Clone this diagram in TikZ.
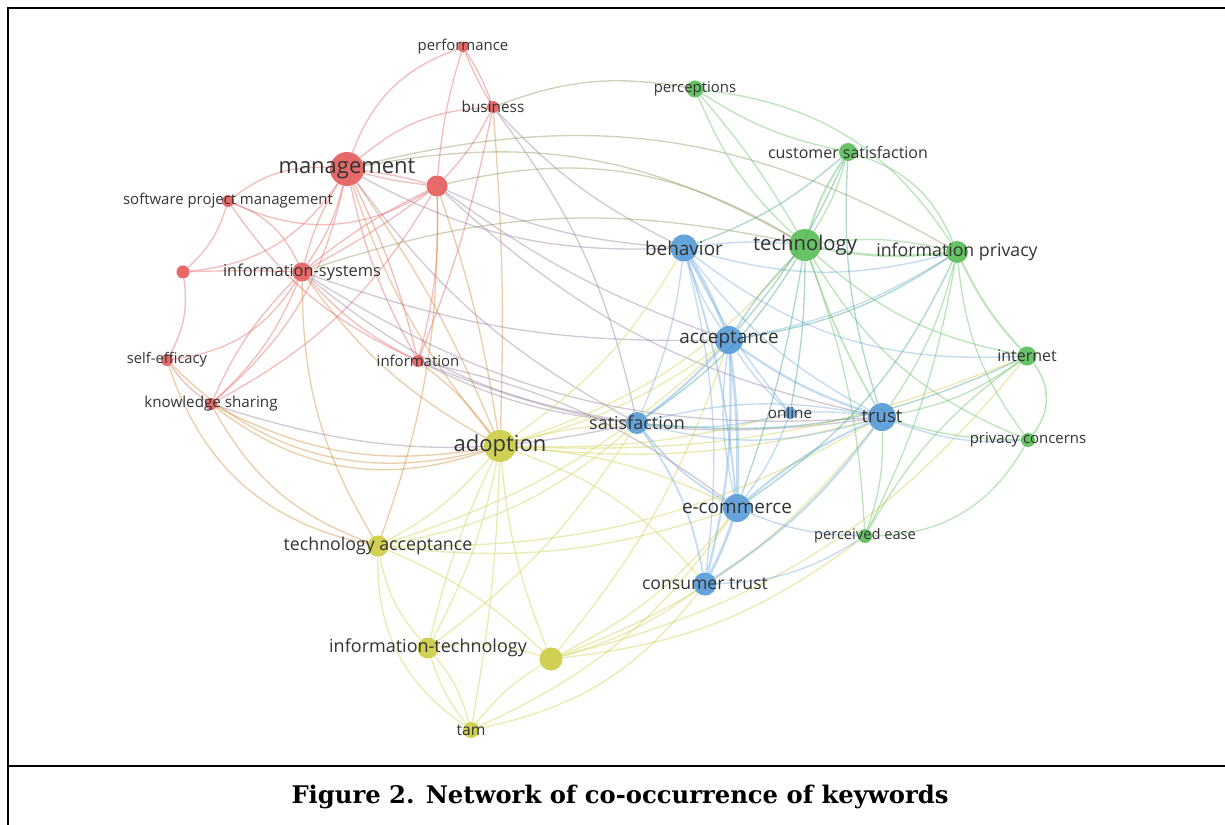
\documentclass[tikz,border=0pt]{standalone}
\usepackage{fontspec}
\newfontfamily\kwfont{Open Sans}
\newfontfamily\capfont{DejaVu Serif}
\usetikzlibrary{positioning}
\definecolor{kwRed}{HTML}{E0504F}
\definecolor{kwYel}{HTML}{C8C836}
\definecolor{kwBlu}{HTML}{4A94D4}
\definecolor{kwGrn}{HTML}{4DB84B}
\definecolor{kwText}{HTML}{333333}
\newcommand{\kwsz}[1]{\kwfont\fontsize{#1}{#1}\selectfont}
\pgfdeclarelayer{links}
\pgfsetlayers{links,main}
\tikzset{
  kw red/.style={circle, fill=kwRed, fill opacity=.85, inner sep=0pt},
  kw yel/.style={circle, fill=kwYel, fill opacity=.85, inner sep=0pt},
  kw blu/.style={circle, fill=kwBlu, fill opacity=.85, inner sep=0pt},
  kw grn/.style={circle, fill=kwGrn, fill opacity=.85, inner sep=0pt},
  kw label/.style={text=kwText, text opacity=1, inner sep=0pt},
  e red/.style={draw=kwRed!75, line width=1pt, opacity=.5},
  e org/.style={draw=kwRed!45!kwYel, line width=1pt, opacity=.45},
  e pur/.style={draw=kwRed!45!kwBlu, line width=1pt, opacity=.4},
  e olv/.style={draw=kwRed!40!kwGrn, line width=1pt, opacity=.4},
  e yel/.style={draw=kwYel!70, line width=1pt, opacity=.55},
  e blu/.style={draw=kwBlu!75, line width=1pt, opacity=.45},
  e tea/.style={draw=kwBlu!50!kwGrn, line width=1pt, opacity=.45},
  e grn/.style={draw=kwGrn!75, line width=1pt, opacity=.5},
  frame line/.style={draw=black, line width=1.5pt},
}

\begin{document}
\begin{tikzpicture}[x=0.75pt, y=-0.75pt]
  \useasboundingbox (0,0) rectangle (1225,825);
  % Frame and caption
  \draw[frame line] (7.5,825) -- (7.5,7.5) -- (1225,7.5);
  \draw[frame line] (7.5,766) -- (1225,766);
  \node[font=\capfont\bfseries\fontsize{18.2}{20}\selectfont] (caption) at (620,797) {Figure 2. Network of co-occurrence of keywords};

  % Red cluster
  \node[kw red, minimum size=8.3pt, label={[kw label, font=\kwsz{11.2}]center:performance}] (perf) at (463,47) {};
  \node[kw red, minimum size=9pt, label={[kw label, font=\kwsz{11.5}]center:business}] (bus) at (493,107) {};
  \node[kw red, minimum size=25.5pt, label={[kw label, font=\kwsz{16.5}]center:management}] (mgmt) at (347,169) {};
  \node[kw red, minimum size=15.8pt] (rdot) at (437,186) {};
  \node[kw red, minimum size=9pt, label={[kw label, font=\kwsz{11.2}]center:software project management}] (spm) at (228,201) {};
  \node[kw red, minimum size=9.8pt] (rdot2) at (183,272) {};
  \node[kw red, minimum size=14.3pt, label={[kw label, font=\kwsz{12.3}]center:information-systems}] (isys) at (302,272) {};
  \node[kw red, minimum size=9pt, label={[kw label, font=\kwsz{11}]center:self-efficacy}] (selfe) at (167,360) {};
  \node[kw red, minimum size=9pt, label={[kw label, font=\kwsz{11.2}]center:information}] (info) at (418,361) {};
  \node[kw red, minimum size=9pt, label={[kw label, font=\kwsz{11.4}]center:knowledge sharing}] (know) at (211,404) {};

  % Yellow cluster
  \node[kw yel, minimum size=24pt, label={[kw label, font=\kwsz{16.5}]center:adoption}] (adopt) at (500,446) {};
  \node[kw yel, minimum size=15.8pt, label={[kw label, font=\kwsz{13.3}]center:technology acceptance}] (tacc) at (378,546) {};
  \node[kw yel, minimum size=15.8pt, label={[kw label, font=\kwsz{13.5}]center:information-technology}] (itech) at (428,648) {};
  \node[kw yel, minimum size=17.3pt] (ydot) at (551,659) {};
  \node[kw yel, minimum size=12pt, label={[kw label, font=\kwsz{11.8}]center:tam}] (tam) at (471,730) {};

  % Blue cluster
  \node[kw blu, minimum size=20.3pt, label={[kw label, font=\kwsz{14.2}]center:behavior}] (behav) at (684,248) {};
  \node[kw blu, minimum size=21pt, label={[kw label, font=\kwsz{14.2}]center:acceptance}] (accept) at (729,340) {};
  \node[kw blu, minimum size=16.5pt, label={[kw label, font=\kwsz{13.5}]center:satisfaction}] (satis) at (637,423) {};
  \node[kw blu, minimum size=9pt, label={[kw label, font=\kwsz{11.4}]center:online}] (online) at (790,413) {};
  \node[kw blu, minimum size=21pt, label={[kw label, font=\kwsz{13.8}]center:trust}] (trust) at (882,417) {};
  \node[kw blu, minimum size=21pt, label={[kw label, font=\kwsz{14.2}]center:e-commerce}] (ecom) at (737,508) {};
  \node[kw blu, minimum size=17.3pt, label={[kw label, font=\kwsz{13.2}]center:consumer trust}] (ctrust) at (705,584) {};

  % Green cluster
  \node[kw grn, minimum size=12.8pt, label={[kw label, font=\kwsz{11.2}]center:perceptions}] (percep) at (695,89) {};
  \node[kw grn, minimum size=13.5pt, label={[kw label, font=\kwsz{12}]center:customer satisfaction}] (csat) at (848,152) {};
  \node[kw grn, minimum size=24pt, label={[kw label, font=\kwsz{15.2}]center:technology}] (tech) at (805,245) {};
  \node[kw grn, minimum size=16.5pt, label={[kw label, font=\kwsz{13.3}]center:information privacy}] (iprivacy) at (957,252) {};
  \node[kw grn, minimum size=14.3pt, label={[kw label, font=\kwsz{12}]center:internet}] (internet) at (1027,356) {};
  \node[kw grn, minimum size=10.5pt, label={[kw label, font=\kwsz{11.2}]center:privacy concerns}] (pconc) at (1028,440) {};
  \node[kw grn, minimum size=10.5pt, label={[kw label, font=\kwsz{11}]center:perceived ease}] (pease) at (865,536) {};

  \begin{pgfonlayer}{links}
  % links inside the red cluster
  \foreach \a/\b/\bb in {perf/mgmt/-25, perf/bus/6, perf/bus/-4, perf/rdot/-6, bus/mgmt/-18,
      bus/rdot/8, bus/info/5, mgmt/spm/-20, mgmt/isys/10, mgmt/isys/-8, mgmt/rdot2/25,
      mgmt/know/18, mgmt/info/-8, mgmt/info/6, mgmt/rdot/4, mgmt/rdot/-4, rdot/spm/28,
      rdot/isys/-6, rdot/isys/4, rdot/know/15, rdot/info/8, spm/rdot2/15, spm/isys/22,
      spm/info/-15, rdot2/isys/2, rdot2/selfe/18, isys/selfe/25, isys/know/12,
      isys/know/-10, isys/info/-10, selfe/know/-10}
    \draw[e red] (\a) to[bend left=\bb] (\b);
  % red to yellow
  \foreach \a/\b/\bb in {mgmt/adopt/-10, mgmt/adopt/6, rdot/adopt/5, isys/adopt/-12,
      info/adopt/8, know/adopt/-18, know/adopt/-28, selfe/adopt/-30, selfe/tacc/-30,
      know/tacc/-20, bus/adopt/3, isys/tacc/-15, rdot/tacc/10}
    \draw[e org] (\a) to[bend left=\bb] (\b);
  % red to blue
  \foreach \a/\b/\bb in {bus/satis/12, bus/behav/-10, mgmt/behav/-15, mgmt/satis/-12,
      rdot/behav/-10, rdot/trust/-15, isys/accept/-10, isys/trust/-18, isys/satis/-15,
      info/satis/-10, info/trust/-15, info/ecom/12, know/satis/-15, rdot/accept/-8}
    \draw[e pur] (\a) to[bend left=\bb] (\b);
  % red to green
  \foreach \a/\b/\bb in {bus/percep/15, mgmt/tech/20, rdot/tech/22, mgmt/iprivacy/22,
      isys/tech/15}
    \draw[e olv] (\a) to[bend left=\bb] (\b);
  % yellow cluster and its outer links
  \foreach \a/\b/\bb in {adopt/tacc/10, adopt/itech/8, adopt/itech/-6, adopt/ydot/-8,
      adopt/tam/4, tacc/itech/-15, tacc/tam/-28, tacc/ydot/10, itech/tam/12, itech/tam/-10,
      itech/ydot/12, ydot/tam/-10, adopt/satis/6, adopt/accept/-10, adopt/behav/-12,
      adopt/tech/-15, adopt/trust/-10, adopt/ecom/10, adopt/ctrust/15, adopt/online/-8,
      adopt/internet/-12, tacc/accept/-12, tacc/satis/-15, tacc/ecom/-12, tacc/trust/-15,
      itech/satis/-10, ydot/accept/-10, ydot/ecom/-12, ydot/ctrust/-10, ydot/pease/-15,
      ydot/trust/-15, ydot/internet/-18, tam/ctrust/-20, tam/ecom/-15}
    \draw[e yel] (\a) to[bend left=\bb] (\b);
  % blue cluster
  \foreach \a/\b/\bb/\w in {behav/accept/5/2.2, behav/accept/-8/1, behav/satis/8/1,
      behav/trust/-12/1, behav/ecom/6/1.5, behav/ctrust/10/1, behav/online/-6/1,
      behav/iprivacy/-15/1, behav/internet/-20/1, accept/satis/5/1.7,
      accept/trust/-8/1.7, accept/ecom/4/2.2, accept/ecom/-10/1, accept/ctrust/8/1.7,
      accept/online/-6/1, accept/iprivacy/-10/1, satis/ecom/-10/1.3, satis/trust/-15/1,
      satis/trust/12/1, satis/ctrust/12/1.3, satis/online/-10/1, online/trust/5/1,
      online/ecom/8/1, trust/ecom/-8/1.7, trust/ctrust/10/1.7, trust/pconc/-12/1,
      ecom/ctrust/4/2.2, ecom/pease/-10/1, ctrust/pease/-15/1, behav/tech/6/1}
    \draw[e blu, line width=\w pt] (\a) to[bend left=\bb] (\b);
  % green cluster
  \foreach \a/\b/\bb/\w in {percep/csat/-10/1, percep/tech/5/1, percep/tech/-12/1,
      percep/iprivacy/25/1, csat/tech/-8/1.5, csat/tech/8/1, csat/iprivacy/25/1,
      tech/iprivacy/-8/1.9, tech/iprivacy/10/1, tech/internet/-15/1, tech/trust/-5/1.2,
      tech/pconc/-18/1, tech/pease/8/1, iprivacy/internet/-8/1.5, iprivacy/pconc/-15/1,
      iprivacy/trust/10/1, iprivacy/pease/8/1, internet/pconc/40/1.2, internet/trust/12/1,
      internet/pease/-12/1, pconc/pease/30/1, pease/trust/-10/1, pconc/trust/8/1}
    \draw[e grn, line width=\w pt] (\a) to[bend left=\bb] (\b);
  % blue to green
  \foreach \a/\b/\bb in {csat/behav/10, csat/accept/8, csat/trust/-10, tech/ecom/5,
      tech/online/5, tech/satis/12, tech/accept/-6, iprivacy/ecom/15, internet/satis/15,
      iprivacy/accept/12}
    \draw[e tea] (\a) to[bend left=\bb] (\b);
  \end{pgfonlayer}
\end{tikzpicture}
\end{document}
